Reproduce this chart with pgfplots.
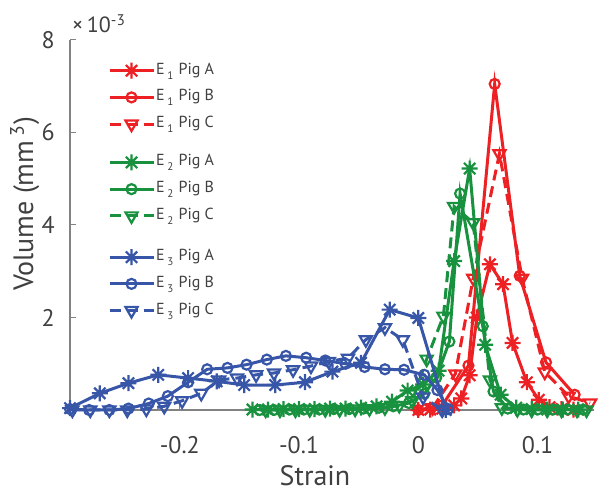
\documentclass[border=0pt]{standalone}
\usepackage{fontspec}
\setmainfont{PT Sans}
\usepackage{pgfplots}
\pgfplotsset{compat=1.18}
\definecolor{cR}{RGB}{237,32,36}
\definecolor{cG}{RGB}{24,146,62}
\definecolor{cB}{RGB}{56,86,168}
\definecolor{axgray}{RGB}{130,130,130}
\definecolor{txt}{RGB}{64,64,64}
\pgfdeclareplotmark{ast8}{%
  \pgfpathmoveto{\pgfpoint{-\pgfplotmarksize}{0pt}}%
  \pgfpathlineto{\pgfpoint{\pgfplotmarksize}{0pt}}%
  \pgfpathmoveto{\pgfpoint{0pt}{-\pgfplotmarksize}}%
  \pgfpathlineto{\pgfpoint{0pt}{\pgfplotmarksize}}%
  \pgfpathmoveto{\pgfpoint{-0.7071\pgfplotmarksize}{-0.7071\pgfplotmarksize}}%
  \pgfpathlineto{\pgfpoint{0.7071\pgfplotmarksize}{0.7071\pgfplotmarksize}}%
  \pgfpathmoveto{\pgfpoint{-0.7071\pgfplotmarksize}{0.7071\pgfplotmarksize}}%
  \pgfpathlineto{\pgfpoint{0.7071\pgfplotmarksize}{-0.7071\pgfplotmarksize}}%
  \pgfusepathqstroke}
\newcommand\sub[1]{\,\raisebox{-5pt}{\fontsize{11}{12}\selectfont #1}\,\,}
\pgfplotsset{
  legend image code/.code={\draw[mark repeat=2,mark phase=2,#1] plot coordinates {(0pt,0pt) (22pt,0pt) (44pt,0pt)};},
  base/.style={scale only axis, width=523.7pt, height=370pt,
    xmin=-0.292, xmax=0.147, ymin=0, ymax=8,
    at={(70pt,84pt)}, anchor=south west, clip=false,
    legend cell align=left,
    legend style={draw=none, fill=none, inner sep=0pt, outer sep=0pt,
      row sep=9.7pt, column sep=1pt, anchor=north west,
      nodes={inner sep=0pt, text height=12pt, text depth=5pt,
        font=\fontsize{16}{18}\selectfont, text=txt}}},
  sA/.style={line width=3pt, mark=ast8, mark size=8pt, mark options={solid, line width=2.2pt}},
  sB/.style={line width=3pt, mark=o, mark size=5pt, mark options={solid, line width=2.2pt}},
  sC/.style={line width=3pt, dash pattern=on 11pt off 6pt, mark=triangle, mark size=7pt,
    mark options={solid, rotate=180, line width=2.2pt}},
}
\begin{document}
\begin{tikzpicture}
\path[use as bounding box] (0pt,0pt) rectangle (600pt,494pt);
% ---------- E1 ----------
\begin{axis}[base,
  axis x line*=bottom, axis y line*=left,
  axis line style={axgray, line width=1.2pt},
  tick style={axgray, line width=1pt},
  tick align=inside, major tick length=6pt,
  xtick={-0.2,-0.1,0,0.1}, xticklabels={-0.2,-0.1,0,0.1},
  ytick={2,4,6,8}, yticklabels={2,4,6,8},
  ticklabel style={font=\fontsize{24}{28}\selectfont, text=txt, inner sep=0pt},
  xticklabel style={anchor=north, yshift=-26pt},
  yticklabel style={anchor=east, xshift=-15pt},
  legend style={at={(axis description cs:0.0726,0.94)}}]
\addplot[cR, sA] coordinates {
(0.000,0.00) (0.010,0.01) (0.020,0.03) (0.030,0.10) (0.036,0.25) (0.043,0.75)
(0.049,2.00) (0.060,3.15) (0.071,2.72) (0.079,1.45) (0.091,0.60) (0.101,0.22)
(0.110,0.06) (0.120,0.02) (0.130,0.01)};
\addlegendentry{E\sub{1}Pig A}
\addplot[cR, sB] coordinates {
(0.000,0.00) (0.020,0.10) (0.042,0.96) (0.064,7.05) (0.085,2.90) (0.107,1.03) (0.131,0.33)};
\addlegendentry{E\sub{1}Pig B}
\addplot[cR, sC] coordinates {
(0.012,0.05) (0.031,0.78) (0.046,2.85) (0.068,5.54) (0.087,2.85) (0.106,0.82)
(0.126,0.30) (0.144,0.15)};
\addlegendentry{E\sub{1}Pig C}
\end{axis}
% ---------- E2 ----------
\begin{axis}[base, hide axis,
  legend style={at={(axis description cs:0.0726,0.692)}}]
\addplot[cG, sA] coordinates {
(-0.139,0.01) (-0.126,0.01) (-0.113,0.02) (-0.100,0.02) (-0.087,0.02) (-0.074,0.03)
(-0.061,0.03) (-0.048,0.05) (-0.035,0.08) (-0.022,0.18) (-0.009,0.42) (0.004,0.55)
(0.017,0.85) (0.030,3.22) (0.043,5.22) (0.056,1.41) (0.069,0.33) (0.082,0.05)
(0.095,0.02) (0.108,0.01) (0.121,0.01) (0.134,0.01)};
\addlegendentry{E\sub{2}Pig A}
\addplot[cG, sB] coordinates {
(-0.133,0.00) (-0.121,0.00) (-0.108,0.01) (-0.096,0.01) (-0.083,0.01) (-0.071,0.02)
(-0.058,0.02) (-0.046,0.03) (-0.033,0.05) (-0.021,0.08) (-0.008,0.15) (0.005,0.35)
(0.015,0.70) (0.026,1.48) (0.035,4.68) (0.054,1.81) (0.063,0.40) (0.075,0.03)
(0.088,0.01) (0.100,0.01) (0.113,0.01) (0.125,0.01) (0.138,0.01)};
\addlegendentry{E\sub{2}Pig B}
\addplot[cG, sC] coordinates {
(-0.128,0.00) (-0.116,0.00) (-0.103,0.00) (-0.091,0.01) (-0.078,0.01) (-0.066,0.01)
(-0.053,0.02) (-0.041,0.03) (-0.028,0.05) (-0.016,0.10) (-0.005,0.20) (0.007,1.10)
(0.021,2.03) (0.030,4.40) (0.046,4.05) (0.060,0.65) (0.070,0.05) (0.083,0.01)
(0.095,0.00) (0.108,0.00) (0.120,0.00) (0.133,0.00) (0.141,0.00)};
\addlegendentry{E\sub{2}Pig C}
\end{axis}
% ---------- E3 ----------
\begin{axis}[base, hide axis,
  legend style={at={(axis description cs:0.0726,0.436)}}]
\addplot[cB, sA] coordinates {
(-0.292,0.04) (-0.267,0.36) (-0.243,0.58) (-0.218,0.76) (-0.193,0.69) (-0.169,0.62)
(-0.146,0.54) (-0.120,0.54) (-0.095,0.60) (-0.072,0.83) (-0.048,1.02) (-0.024,2.17)
(0.000,1.99) (0.023,0.00)};
\addlegendentry{E\sub{3}Pig A}
\addplot[cB, sB] coordinates {
(-0.292,0.02) (-0.276,0.00) (-0.259,0.00) (-0.243,0.03) (-0.226,0.14) (-0.210,0.30)
(-0.193,0.60) (-0.177,0.88) (-0.160,0.91) (-0.144,0.98) (-0.127,1.09) (-0.111,1.17)
(-0.094,1.13) (-0.078,1.07) (-0.061,1.00) (-0.045,0.93) (-0.028,0.88) (-0.012,0.87)
(0.005,0.76) (0.016,0.43) (0.025,0.02)};
\addlegendentry{E\sub{3}Pig B}
\addplot[cB, sC] coordinates {
(-0.290,0.00) (-0.275,0.00) (-0.259,0.00) (-0.244,0.00) (-0.228,0.02) (-0.213,0.08)
(-0.198,0.20) (-0.182,0.36) (-0.167,0.65) (-0.152,0.69) (-0.136,0.76) (-0.121,0.80)
(-0.105,0.87) (-0.090,0.95) (-0.075,1.05) (-0.059,1.12) (-0.044,1.52) (-0.028,1.78)
(-0.013,1.52) (0.004,0.28) (0.020,0.00)};
\addlegendentry{E\sub{3}Pig C}
\end{axis}
% ---------- labels ----------
\node[anchor=base, text=txt, font=\fontsize{28}{32}\selectfont, inner sep=0pt] at (315pt,8pt) {Strain};
\node[anchor=base, rotate=90, text=txt, font=\fontsize{28}{32}\selectfont, inner sep=0pt] at (33pt,290pt) {Volume (mm\,\textsuperscript{3})};
\node[anchor=base west, text=txt, font=\fontsize{22}{26}\selectfont, inner sep=0pt] at (72pt,461pt) {×\,10\textsuperscript{-3}};
\end{tikzpicture}
\end{document}
